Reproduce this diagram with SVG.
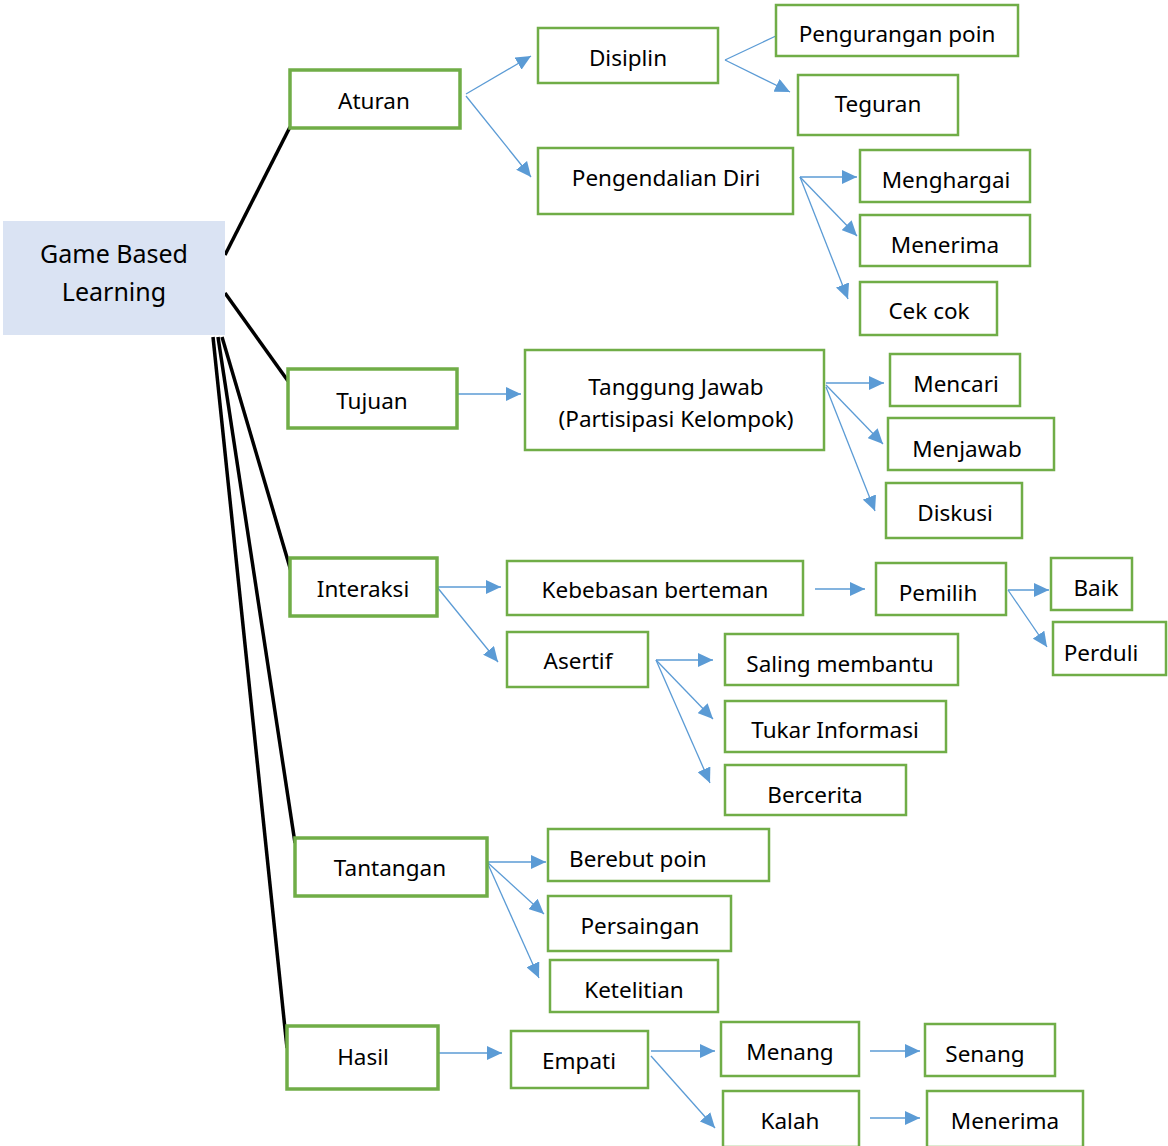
<svg xmlns="http://www.w3.org/2000/svg" width="1168" height="1146" viewBox="0 0 1168 1146">
<style>
.n1{fill:#fff;stroke:#70ad47;stroke-width:3.5}
.n2{fill:#fff;stroke:#70ad47;stroke-width:2.5}
.root{fill:#dae3f3}
text{font-family:"Noto Sans","Open Sans","Liberation Sans",sans-serif;font-size:22.5px;fill:#000;text-anchor:middle;dominant-baseline:central}
.big{font-size:25px}
.st{text-anchor:start}
.bl{stroke:#000;stroke-width:3.5;fill:none}
.ar{stroke:#5b9bd5;stroke-width:1.3;fill:none;marker-end:url(#ah)}
.ln{stroke:#5b9bd5;stroke-width:1.3;fill:none}
</style>
<defs>
<marker id="ah" markerUnits="userSpaceOnUse" markerWidth="16" markerHeight="14" refX="15" refY="7" orient="auto">
<path d="M0,0 L15,7 L0,14 Z" fill="#5b9bd5"/>
</marker>
</defs>
<g id="connectors">
<line class="bl" x1="225" y1="255" x2="290" y2="127"/>
<line class="bl" x1="225" y1="293" x2="288" y2="381"/>
<line class="bl" x1="222" y1="337" x2="293" y2="578"/>
<line class="bl" x1="218" y1="337" x2="295" y2="843"/>
<line class="bl" x1="213" y1="337" x2="287" y2="1048"/>
<line class="ar" x1="466" y1="94" x2="531" y2="56"/>
<line class="ar" x1="466" y1="96" x2="531" y2="177"/>
<line class="ln" x1="725" y1="60" x2="778" y2="35"/>
<line class="ar" x1="725" y1="60" x2="790" y2="92"/>
<line class="ar" x1="800" y1="177" x2="857" y2="177"/>
<line class="ar" x1="800" y1="177" x2="857" y2="236"/>
<line class="ar" x1="800" y1="177" x2="848" y2="299"/>
<line class="ar" x1="457" y1="394" x2="521" y2="394"/>
<line class="ar" x1="826" y1="383" x2="884" y2="383"/>
<line class="ar" x1="826" y1="385" x2="883" y2="444"/>
<line class="ar" x1="826" y1="387" x2="875" y2="511"/>
<line class="ar" x1="437" y1="587" x2="501" y2="587"/>
<line class="ar" x1="437" y1="587" x2="498" y2="662"/>
<line class="ar" x1="815" y1="589" x2="865" y2="589"/>
<line class="ar" x1="1008" y1="590" x2="1049" y2="590"/>
<line class="ar" x1="1008" y1="590" x2="1047" y2="647"/>
<line class="ar" x1="656" y1="660" x2="713" y2="660"/>
<line class="ar" x1="656" y1="660" x2="713" y2="719"/>
<line class="ar" x1="656" y1="660" x2="710" y2="783"/>
<line class="ar" x1="487" y1="862" x2="546" y2="862"/>
<line class="ar" x1="487" y1="862" x2="544" y2="914"/>
<line class="ar" x1="487" y1="862" x2="539" y2="978"/>
<line class="ar" x1="438" y1="1053" x2="502" y2="1053"/>
<line class="ar" x1="651" y1="1051" x2="715" y2="1051"/>
<line class="ar" x1="651" y1="1056" x2="715" y2="1128"/>
<line class="ar" x1="870" y1="1051" x2="920" y2="1051"/>
<line class="ar" x1="870" y1="1118" x2="920" y2="1118"/>
</g>
<g id="gbl"><rect class="root" x="3" y="221" width="222" height="114"/><text class="big" x="114" y="253">Game Based</text><text class="big" x="114" y="291">Learning</text></g>
<g id="aturan"><rect class="n1" x="290" y="70" width="170" height="58"/><text x="374" y="100">Aturan</text></g>
<g id="tujuan"><rect class="n1" x="288" y="369" width="169" height="59"/><text x="372" y="400">Tujuan</text></g>
<g id="interaksi"><rect class="n1" x="290" y="558" width="147" height="58"/><text x="363" y="588">Interaksi</text></g>
<g id="tantangan"><rect class="n1" x="295" y="838" width="192" height="58"/><text x="390" y="867">Tantangan</text></g>
<g id="hasil"><rect class="n1" x="287" y="1026" width="151" height="63"/><text x="363" y="1056">Hasil</text></g>
<g id="disiplin"><rect class="n2" x="538" y="28" width="180" height="55"/><text x="628" y="57">Disiplin</text></g>
<g id="pengendalian"><rect class="n2" x="538" y="148" width="255" height="66"/><text x="666" y="177">Pengendalian Diri</text></g>
<g id="pengurangan"><rect class="n2" x="776" y="5" width="242" height="51"/><text x="897" y="33">Pengurangan poin</text></g>
<g id="teguran"><rect class="n2" x="798" y="75" width="160" height="60"/><text x="878" y="103">Teguran</text></g>
<g id="menghargai"><rect class="n2" x="860" y="150" width="170" height="52"/><text x="946" y="179">Menghargai</text></g>
<g id="menerima1"><rect class="n2" x="860" y="215" width="170" height="51"/><text x="945" y="244">Menerima</text></g>
<g id="cekcok"><rect class="n2" x="860" y="282" width="137" height="53"/><text x="929" y="310">Cek cok</text></g>
<g id="tanggungjawab"><rect class="n2" x="525" y="350" width="299" height="100"/><text x="676" y="386">Tanggung Jawab</text><text x="676" y="418">(Partisipasi Kelompok)</text></g>
<g id="mencari"><rect class="n2" x="890" y="354" width="130" height="52"/><text x="956" y="383">Mencari</text></g>
<g id="menjawab"><rect class="n2" x="888" y="418" width="166" height="52"/><text x="967" y="448">Menjawab</text></g>
<g id="diskusi"><rect class="n2" x="886" y="483" width="136" height="55"/><text x="955" y="512">Diskusi</text></g>
<g id="kebebasan"><rect class="n2" x="507" y="561" width="296" height="54"/><text x="655" y="589">Kebebasan berteman</text></g>
<g id="pemilih"><rect class="n2" x="876" y="563" width="130" height="52"/><text x="938" y="592">Pemilih</text></g>
<g id="baik"><rect class="n2" x="1051" y="558" width="81" height="52"/><text x="1096" y="587">Baik</text></g>
<g id="perduli"><rect class="n2" x="1053" y="622" width="113" height="53"/><text x="1101" y="652">Perduli</text></g>
<g id="asertif"><rect class="n2" x="507" y="632" width="141" height="55"/><text x="578" y="660">Asertif</text></g>
<g id="saling"><rect class="n2" x="725" y="634" width="233" height="51"/><text x="840" y="663">Saling membantu</text></g>
<g id="tukar"><rect class="n2" x="725" y="701" width="221" height="51"/><text x="835" y="729">Tukar Informasi</text></g>
<g id="bercerita"><rect class="n2" x="725" y="765" width="181" height="50"/><text x="815" y="794">Bercerita</text></g>
<g id="berebut"><rect class="n2" x="548" y="829" width="221" height="52"/><text class="st" x="569" y="858">Berebut poin</text></g>
<g id="persaingan"><rect class="n2" x="548" y="896" width="183" height="55"/><text x="640" y="925">Persaingan</text></g>
<g id="ketelitian"><rect class="n2" x="550" y="960" width="168" height="52"/><text x="634" y="989">Ketelitian</text></g>
<g id="empati"><rect class="n2" x="511" y="1031" width="137" height="57"/><text x="579" y="1060">Empati</text></g>
<g id="menang"><rect class="n2" x="721" y="1022" width="138" height="54"/><text x="790" y="1051">Menang</text></g>
<g id="kalah"><rect class="n2" x="723" y="1091" width="136" height="56"/><text x="790" y="1120">Kalah</text></g>
<g id="senang"><rect class="n2" x="925" y="1024" width="130" height="52"/><text x="985" y="1053">Senang</text></g>
<g id="menerima2"><rect class="n2" x="927" y="1091" width="156" height="56"/><text x="1005" y="1120">Menerima</text></g>
</svg>
